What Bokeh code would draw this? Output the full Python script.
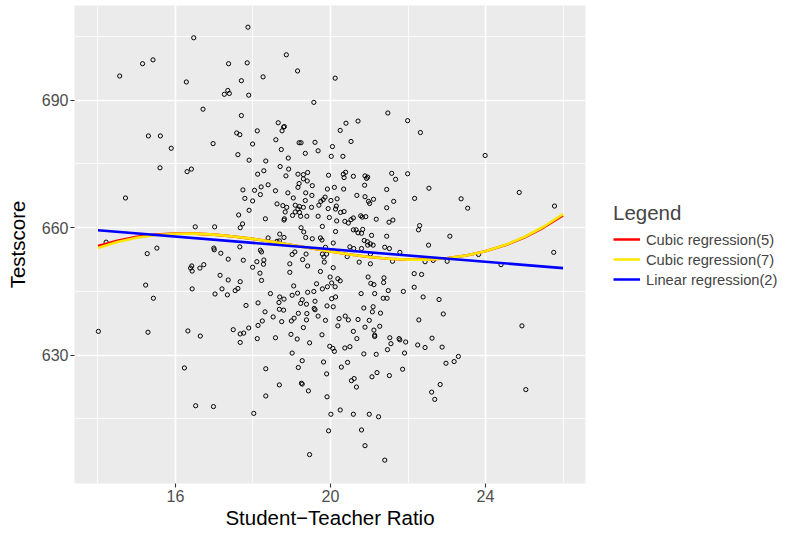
from bokeh.plotting import figure
from bokeh.models import Range1d, FixedTicker, Legend, LegendItem
from bokeh.embed import file_html
from bokeh.resources import INLINE

# ---- data ----
str_ratio = [
    16.47, 15.15, 15.42, 14.56, 16.28, 16.71, 15.30, 15.61, 15.89,
    17.87, 17.37, 17.85, 18.86, 19.15, 18.26, 17.70, 17.35, 17.26, 17.39, 17.89, 17.70, 18.65, 18.79, 18.81,
    18.75, 18.11, 17.58, 17.66, 16.97, 17.99, 18.59, 19.19, 19.24, 18.73, 19.35, 17.61, 18.91, 17.90, 18.33,
    20.12, 19.57, 21.48, 21.99, 20.40, 20.71, 20.25, 19.60, 20.53, 19.68, 20.05, 20.02, 20.32,
    22.32, 23.99,
    15.60, 16.30, 16.41, 14.71, 16.51, 14.21, 15.27, 15.52, 16.42, 16.39, 16.43, 16.63, 16.73, 15.23, 16.43, 15.43,
    18.70, 18.92, 18.28, 18.12, 18.85, 19.16, 19.30, 19.41, 19.30, 19.40, 19.19, 18.39, 18.21, 19.16, 17.74,
    18.04, 18.58, 18.19, 18.90, 19.36, 19.04, 17.79, 17.99, 19.35, 18.62, 18.77, 18.87, 19.09, 19.20, 19.16,
    19.30, 17.90, 18.83, 19.09, 19.20, 19.02, 19.23, 19.39, 17.63, 18.81, 18.80, 18.32, 17.73, 17.67, 17.01,
    19.24, 19.31, 18.69, 18.80, 18.39, 19.36, 18.62, 18.68, 17.66, 16.99, 17.00, 17.17, 18.19, 18.22, 19.01,
    19.08, 19.37, 19.28, 17.36, 17.75, 18.28, 18.10, 18.27, 18.95, 19.41, 17.99, 18.95, 18.18, 17.15, 17.36,
    17.67, 18.22, 17.54, 17.61, 17.20, 17.02, 17.34, 18.45, 19.05, 19.15, 19.01, 19.41, 18.69, 18.80, 19.27,
    18.67, 19.23, 17.82, 18.13, 18.68, 18.79, 19.38, 19.39, 18.31, 19.17, 18.52, 19.06, 18.99, 18.74, 18.24, 19.38,
    20.39, 20.33, 19.95, 20.35, 20.59, 20.89, 20.96, 20.93, 21.58, 21.68, 21.99, 19.53, 19.92, 20.10, 20.34,
    20.88, 21.45, 20.68, 19.52, 20.89, 21.11, 20.98, 21.01, 20.17, 20.01, 19.86, 19.81, 19.75, 19.94, 19.70,
    19.51, 20.15, 20.13, 20.26, 20.35, 21.45, 21.63, 19.68, 19.97, 20.16, 20.37, 20.46, 20.53, 20.59, 20.78,
    20.82, 20.91, 21.18, 21.51, 21.61, 19.79, 20.13, 20.59, 20.66, 20.71, 20.80, 20.83, 21.06, 21.45, 19.53,
    19.74, 19.78, 20.87, 20.95, 21.03, 20.96, 21.10, 21.40, 21.52, 19.87, 20.07, 20.50, 20.60, 20.80, 21.79,
    19.79, 19.90, 19.83, 19.84, 20.43, 21.03, 21.03, 20.74, 21.60, 20.07, 19.74, 19.99, 20.19, 20.25, 20.03,
    20.12, 19.92, 19.64, 19.79, 19.57, 20.97, 21.38, 21.37, 21.04, 21.12, 21.49, 21.88, 20.79, 21.14, 20.13,
    20.03, 21.46, 21.36, 19.60, 19.91, 20.07, 20.86, 21.10, 19.58, 19.60, 21.08, 21.29, 19.68, 19.87, 20.22,
    20.38, 20.46, 20.71, 21.00,
    22.54, 22.17, 23.37, 23.54, 24.87, 25.78, 22.30, 22.27, 23.08, 22.53, 25.76, 22.44, 22.65, 23.01, 23.82,
    24.40, 22.16, 22.35, 22.16, 22.39, 22.80, 22.91, 22.28,
    14.01, 15.29, 16.32, 16.64, 16.23, 16.52,
    17.49, 17.67, 17.76, 17.89, 18.13, 17.67, 18.11, 18.58, 18.98, 19.14, 19.30, 19.46, 19.01, 19.27, 19.17,
    18.33, 19.25, 19.27, 18.68, 19.43, 18.33, 16.98, 18.02, 19.46,
    20.19, 19.78, 20.59, 20.89, 21.12, 21.27, 21.14, 21.14, 20.68, 21.53, 21.56, 21.77, 21.79, 21.94, 19.98,
    20.06, 20.10, 20.37, 20.50, 20.86, 21.18, 21.47, 21.91, 19.82, 20.44, 20.28, 19.90, 21.20, 21.07, 21.52,
    21.86, 20.61, 20.54, 20.67, 19.91, 20.25, 20.01, 20.59, 21.00, 21.24, 19.95, 20.80, 20.89, 21.40,
    24.94, 22.62, 22.25, 22.44, 22.88, 23.30, 23.19, 22.98, 22.83, 22.61, 22.69, 25.04,
]
testscore = [
    704.7, 698.6, 699.5, 695.7, 694.3, 687.9, 681.6, 681.6, 678.7,
    707.2, 698.6, 698.8, 700.7, 696.9, 695.5, 694.6, 692.3, 691.4, 691.6, 691.2, 686.4, 684.7, 683.7, 683.8,
    682.8, 682.8, 682.3, 681.9, 679.8, 679.7, 680.7, 680.0, 680.0, 678.4, 677.5, 677.2, 676.4, 675.9, 675.7,
    695.2, 689.5, 687.0, 685.2, 684.6, 685.1, 682.9, 680.1, 680.3, 678.1, 679.1, 676.8, 676.8,
    682.4, 677.0,
    674.1, 673.2, 673.8, 667.0, 660.2, 656.6, 653.9, 655.2, 651.0, 650.5, 649.8, 650.5, 651.3, 646.5, 645.6, 643.4,
    674.4, 673.8, 673.4, 672.6, 672.2, 672.6, 672.5, 673.0, 671.5, 671.0, 670.4, 670.1, 669.6, 669.5, 668.9,
    668.8, 668.7, 667.8, 668.2, 668.2, 667.0, 666.9, 666.3, 666.4, 665.6, 665.2, 664.8, 665.3, 665.0, 664.4,
    664.8, 664.1, 663.7, 663.7, 663.6, 662.9, 662.7, 662.7, 663.0, 662.1, 661.8, 662.1, 660.9, 660.0, 660.2,
    660.0, 659.0, 658.5, 657.7, 657.6, 657.7, 656.8, 656.9, 655.5, 655.2, 654.8, 654.0, 654.7, 654.3, 653.7,
    654.3, 653.8, 652.5, 652.6, 652.35, 652.4, 652.0, 651.4, 651.5, 651.0, 650.7, 649.5, 649.3, 648.8, 647.7,
    647.3, 647.6, 645.2, 645.7, 645.6, 644.4, 644.2, 644.5, 646.3, 644.6, 644.1, 644.8, 643.7, 643.2, 643.05,
    642.4, 642.2, 641.7, 642.3, 640.8, 640.6, 642.0, 639.8, 640.2, 639.85, 639.0, 638.7, 638.05, 637.9, 638.05, 638.3,
    673.05, 672.6, 672.35, 671.8, 672.1, 672.2, 671.9, 671.6, 672.8, 671.4, 672.7, 669.9, 669.1, 669.5, 669.1,
    670.0, 669.0, 667.6, 667.6, 667.3, 666.7, 666.2, 665.7, 666.8, 666.4, 667.2, 666.6, 666.2, 664.5, 665.3,
    664.8, 665.1, 664.4, 663.6, 663.8, 664.7, 666.2, 662.7, 662.4, 661.6, 661.5, 661.1, 661.9, 662.3, 662.8,
    662.5, 662.6, 662.0, 661.3, 661.8, 660.3, 659.1, 659.5, 659.5, 658.8, 658.7, 659.6, 658.2, 658.0, 657.4,
    657.6, 657.1, 657.0, 656.7, 656.2, 655.9, 655.9, 655.4, 655.1, 655.4, 656.4, 655.5, 655.1, 655.1, 654.2,
    653.8, 653.8, 653.1, 651.9, 653.2, 653.8, 651.5, 651.9, 652.1, 650.6, 649.7, 648.4, 648.0, 647.5, 647.0,
    646.1, 646.1, 646.8, 645.6, 645.0, 648.4, 648.2, 647.1, 646.9, 646.6, 645.2, 645.0, 644.5, 644.5, 643.7,
    643.3, 643.4, 643.4, 642.7, 641.6, 641.4, 641.1, 641.4, 641.0, 640.7, 640.2, 639.9, 639.2, 638.2, 638.6,
    639.2, 638.3, 638.4, 638.2,
    669.3, 666.9, 666.8, 664.6, 668.3, 665.1, 660.5, 659.5, 658.0, 655.9, 654.2, 652.0, 652.3, 652.1, 653.7,
    651.3, 649.2, 649.0, 646.0, 643.7, 643.1, 639.7, 638.3,
    635.6, 635.4, 635.7, 634.5, 627.0, 618.1,
    636.0, 635.0, 635.2, 636.4, 637.0, 633.0, 633.9, 634.1, 634.9, 633.8, 636.5, 632.9, 630.5, 628.7, 627.1,
    626.8, 623.4, 623.2, 623.0, 621.6, 620.4, 617.9, 616.3, 606.6,
    636.9, 634.8, 635.6, 636.6, 635.9, 636.8, 634.7, 634.4, 633.9, 634.1, 632.7, 633.9, 633.6, 633.1, 632.1,
    631.6, 630.9, 631.7, 632.0, 630.3, 630.2, 631.3, 630.5, 628.4, 628.3, 627.2, 625.6, 625.9, 624.9, 625.2,
    626.7, 624.5, 624.0, 622.5, 620.2, 617.1, 616.1, 616.1, 616.1, 615.5, 612.2, 612.4, 608.7, 605.3,
    636.9, 634.0, 632.4, 631.8, 631.9, 629.7, 628.5, 628.1, 623.1, 621.3, 619.6, 621.9,
]

curve_x = [14.0, 14.5, 15.0, 15.5, 16.0, 16.5, 17.0, 17.5, 18.0, 18.5, 19.0, 19.5, 20.0,
           20.5, 21.0, 21.5, 22.0, 22.5, 23.0, 23.5, 24.0, 24.5, 25.0, 25.5, 26.0]
cubic5_y = [655.7, 656.95, 657.85, 658.4, 658.65, 658.62, 658.37, 657.95, 657.37, 656.68, 655.92, 655.15,
            654.39, 653.70, 653.12, 652.70, 652.48, 652.50, 652.81, 653.45, 654.45, 655.85, 657.7, 660.05, 662.9]
cubic7_y = [655.2, 656.63, 657.64, 658.28, 658.58, 658.60, 658.37, 657.95, 657.37, 656.68, 655.92, 655.15,
            654.39, 653.70, 653.12, 652.70, 652.48, 652.50, 652.81, 653.45, 654.47, 655.91, 657.81, 660.23, 663.2]
linear_x = [14.0, 26.0]
linear_y = [659.4, 650.5]

x_ticks = [16, 20, 24]
x_minor = [14, 18, 22, 26]
y_ticks = [630, 660, 690]
y_minor = [615, 645, 675, 705]

legend_labels = ["Cubic regression(5)", "Cubic regression(7)", "Linear regression(2)"]
line_colors = ["#FF0000", "#FFE600", "#0000FF"]

FONT = "Liberation Sans"

p = figure(
    frame_width=511, frame_height=478,
    min_border_left=74, min_border_right=221, min_border_top=5, min_border_bottom=50,
    x_range=Range1d(13.394, 26.58), y_range=Range1d(599.8, 712.3),
    output_backend="svg", toolbar_location=None,
    background_fill_color="#EBEBEB", border_fill_color="white",
)
p.outline_line_color = None

xt = FixedTicker(ticks=x_ticks, minor_ticks=x_minor)
yt = FixedTicker(ticks=y_ticks, minor_ticks=y_minor)
p.xaxis.ticker = xt
p.yaxis.ticker = yt
p.xgrid.ticker = xt
p.ygrid.ticker = yt
for g in (p.xgrid, p.ygrid):
    g.grid_line_color = "white"
    g.grid_line_width = 1.6
    g.minor_grid_line_color = "white"
    g.minor_grid_line_width = 0.8

for ax in (p.xaxis, p.yaxis):
    ax.axis_line_color = None
    ax.major_tick_line_color = "#333333"
    ax.major_tick_line_width = 1.1
    ax.major_tick_out = 4
    ax.major_tick_in = 0
    ax.minor_tick_line_color = None
    ax.major_label_text_color = "#4D4D4D"
    ax.major_label_text_font = FONT
    ax.major_label_text_font_size = "16px"
    ax.axis_label_text_font = FONT
    ax.axis_label_text_font_size = "20.5px"
    ax.axis_label_text_font_style = "normal"
    ax.axis_label_text_color = "black"
    ax.major_label_standoff = 2

p.xaxis.axis_label = "Student\u2212Teacher Ratio"
p.yaxis.axis_label = "Testscore"
p.xaxis.axis_label_standoff = 1
p.yaxis.axis_label_standoff = 10

p.scatter(str_ratio, testscore, marker="circle", size=4.2, fill_color=None,
          line_color="black", line_width=1)

r5 = p.line(curve_x, cubic5_y, line_color=line_colors[0], line_width=2.6)
r7 = p.line(curve_x, cubic7_y, line_color=line_colors[1], line_width=2.6)
rl = p.line(linear_x, linear_y, line_color=line_colors[2], line_width=2.6)

legend = Legend(
    items=[LegendItem(label=legend_labels[0], renderers=[r5]),
           LegendItem(label=legend_labels[1], renderers=[r7]),
           LegendItem(label=legend_labels[2], renderers=[rl])],
    title="Legend",
    location="center_left",
)
legend.title_text_font = FONT
legend.title_text_font_size = "20.5px"
legend.title_text_font_style = "normal"
legend.title_standoff = 6
legend.label_text_font = FONT
legend.label_text_font_size = "14.7px"
legend.glyph_width = 27
legend.glyph_height = 17
legend.spacing = 3
legend.padding = 0
legend.margin = 28
legend.label_standoff = 6
legend.border_line_color = None
legend.background_fill_alpha = 0
p.add_layout(legend, "right")

open("out.html", "w").write(file_html(p, INLINE))
